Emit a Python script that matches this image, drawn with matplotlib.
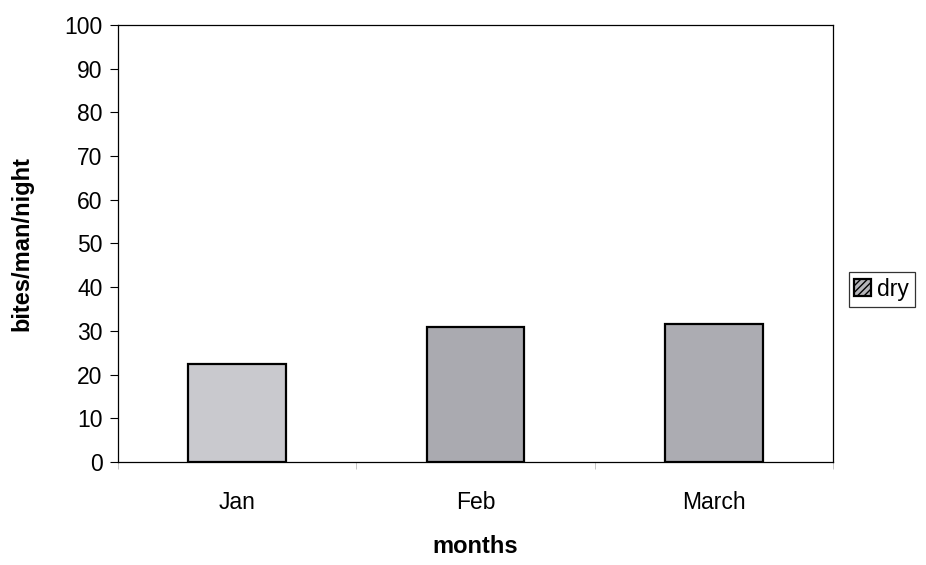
import matplotlib.pyplot as plt

# Data
months = ["Jan", "Feb", "March"]
bites = [22.5, 31.0, 31.5]
bar_colors = ["#c9c9ce", "#aaaab0", "#acacb2"]
y_ticks = list(range(0, 101, 10))


def main():
    plt.rcParams["font.family"] = ["Liberation Sans", "DejaVu Sans"]

    fig = plt.figure(figsize=(9.26, 5.65), dpi=100)
    ax = fig.add_axes([0.1274, 0.1823, 0.772, 0.7735])

    x = list(range(len(months)))
    ax.bar(x, bites, width=0.41, color=bar_colors, edgecolor="black",
           linewidth=1.6, label="dry", zorder=2)

    ax.set_xlim(-0.5, len(months) - 0.5)
    ax.set_ylim(0, 100)
    ax.set_yticks(y_ticks)
    ax.set_xticks(x)
    ax.set_xticklabels(months)
    ax.tick_params(axis="both", labelsize=16.5, length=6, width=0.8)
    ax.tick_params(axis="y", pad=5)
    ax.tick_params(axis="x", length=0, pad=21)
    # category boundary ticks on the x axis
    ax.set_xticks([-0.5, 0.5, 1.5, 2.5], minor=True)
    ax.tick_params(axis="x", which="minor", length=5, color="#bbbbbb")

    for side in ["left", "bottom", "top", "right"]:
        ax.spines[side].set_linewidth(0.9)

    ax.set_ylabel("bites/man/night", fontsize=17, fontweight="bold")
    ax.yaxis.set_label_coords(-0.118, 0.5)
    ax.set_xlabel("months", fontsize=17, fontweight="bold")
    ax.xaxis.set_label_coords(0.5, -0.168)

    leg = ax.legend(loc="center left", bbox_to_anchor=(1.022, 0.395),
                    fontsize=16.5, frameon=True, fancybox=False,
                    handlelength=0.75, handleheight=0.75, handletextpad=0.25,
                    borderpad=0.25, borderaxespad=0)
    leg.get_frame().set_edgecolor("black")
    leg.get_frame().set_linewidth(0.9)
    for patch in leg.get_patches():
        patch.set_facecolor("#b5b5ba")
        patch.set_hatch("/////")

    fig.savefig("out.png", dpi=100)


if __name__ == "__main__":
    main()
